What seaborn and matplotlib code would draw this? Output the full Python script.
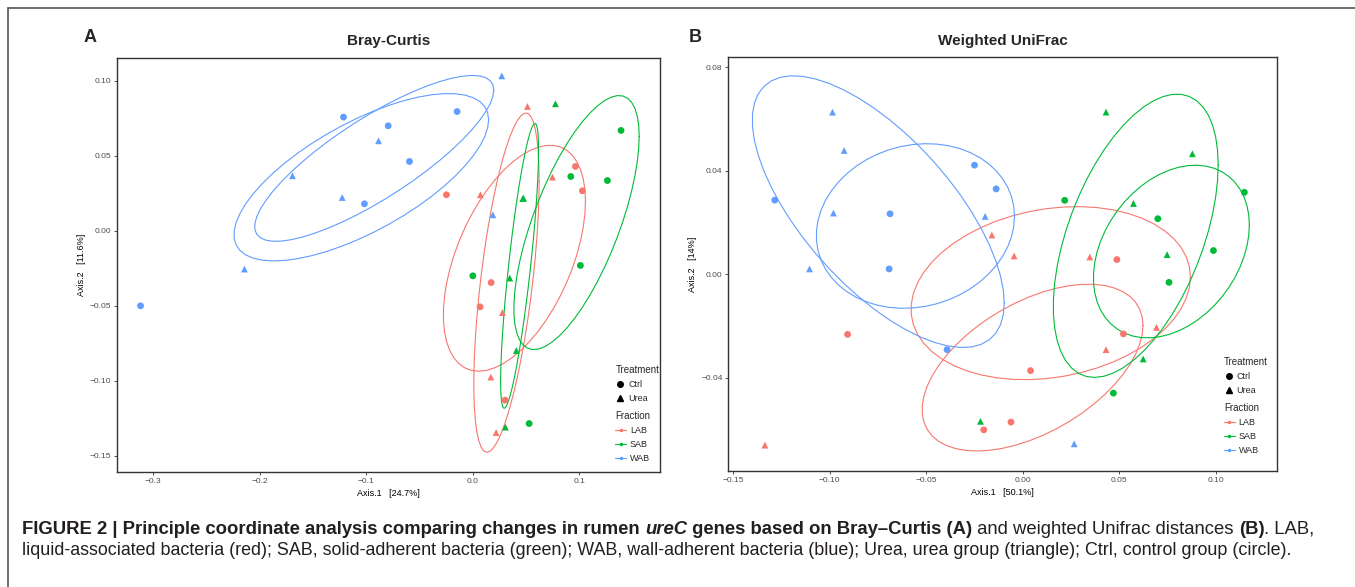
import numpy as np
import pandas as pd
import matplotlib
matplotlib.use("Agg")
import matplotlib.pyplot as plt
import seaborn as sns
from matplotlib.lines import Line2D
from matplotlib.text import Annotation
from matplotlib import font_manager

# ---------------- data ----------------
fractions = ["LAB", "SAB", "WAB"]
treatments = ["Ctrl", "Urea"]
fraction_colors = ["#F8766D", "#00BA38", "#619CFF"]
group_fraction = ["LAB"] * 12 + ["SAB"] * 12 + ["WAB"] * 12
group_treatment = (["Ctrl"] * 6 + ["Urea"] * 6) * 3

# Panel A: Bray-Curtis (order: LAB Ctrl, LAB Urea, SAB Ctrl, SAB Urea, WAB Ctrl, WAB Urea)
bc_axis1 = [0.0966, 0.1031, -0.0246, 0.0174, 0.0070, 0.0305,
            0.0515, 0.0750, 0.0073, 0.0280, 0.0171, 0.0221,
            0.1394, 0.0922, 0.1266, 0.0002, 0.1012, 0.0531,
            0.0778, 0.0471, 0.0478, 0.0349, 0.0411, 0.0308,
            -0.1213, -0.0146, -0.0793, -0.0593, -0.1016, -0.3119,
            -0.1692, -0.1225, 0.0274, -0.0884, 0.0190, -0.2143]
bc_axis2 = [0.0427, 0.0265, 0.0238, -0.0347, -0.0509, -0.1131,
            0.0827, 0.0356, 0.0238, -0.0547, -0.0977, -0.1347,
            0.0667, 0.0360, 0.0333, -0.0302, -0.0233, -0.1287,
            0.0845, 0.0213, 0.0215, -0.0317, -0.0800, -0.1311,
            0.0756, 0.0793, 0.0698, 0.0460, 0.0178, -0.0502,
            0.0365, 0.0220, 0.1031, 0.0598, 0.0105, -0.0257]

# Panel B: Weighted UniFrac
wu_axis1 = [0.0487, -0.0907, 0.0521, 0.0040, -0.0061, -0.0202,
            -0.0160, -0.0045, 0.0347, 0.0692, 0.0431, -0.1335,
            0.1147, 0.0217, 0.0699, 0.0987, 0.0757, 0.0469,
            0.0431, 0.0878, 0.0573, 0.0747, 0.0623, -0.0219,
            -0.0250, -0.0138, -0.1284, -0.0687, -0.0692, -0.0392,
            -0.0985, -0.0925, -0.0980, -0.0195, -0.1104, 0.0266]
wu_axis2 = [0.0057, -0.0232, -0.0230, -0.0372, -0.0571, -0.0601,
            0.0152, 0.0071, 0.0067, -0.0205, -0.0291, -0.0660,
            0.0317, 0.0286, 0.0215, 0.0092, -0.0031, -0.0459,
            0.0627, 0.0466, 0.0274, 0.0076, -0.0327, -0.0568,
            0.0422, 0.0330, 0.0287, 0.0234, 0.0021, -0.0291,
            0.0627, 0.0479, 0.0237, 0.0224, 0.0021, -0.0655]

bc_xticks = [-0.3, -0.2, -0.1, 0.0, 0.1]
bc_yticks = [-0.15, -0.10, -0.05, 0.00, 0.05, 0.10]
wu_xticks = [-0.15, -0.10, -0.05, 0.00, 0.05, 0.10]
wu_yticks = [-0.04, 0.00, 0.04, 0.08]

bc_xlabel = "Axis.1   [24.7%]"
bc_ylabel = "Axis.2   [11.6%]"
wu_xlabel = "Axis.1   [50.1%]"
wu_ylabel = "Axis.2   [14%]"

ELLIPSE_LEVEL = 0.6

# ---------------- fonts ----------------
sns.set_theme(style="white")
names = {f.name for f in font_manager.fontManager.ttflist}
base_font = "Liberation Sans" if "Liberation Sans" in names else "DejaVu Sans"
cap_font = "Liberation Sans Narrow" if "Liberation Sans Narrow" in names else base_font
plt.rcParams["font.family"] = [base_font, "DejaVu Sans"]


# ---------------- stat_ellipse (type = "t") ----------------
def cov_trob(x, nu=5, maxit=25, tol=0.01):
    n, p = x.shape
    wt = np.ones(n)
    loc = x.mean(axis=0)
    w = np.sqrt(wt)
    X = x - loc
    for _ in range(maxit):
        w0 = w
        X = x - loc
        A = np.sqrt(w / w.sum())[:, None] * X
        _, d, vt = np.linalg.svd(A, full_matrices=False)
        wX = X @ vt.T @ np.diag(1.0 / d)
        Q = (wX ** 2).sum(axis=1)
        w = wt * (nu + p) / (nu + Q)
        loc = (w[:, None] * x).sum(axis=0) / w.sum()
        if np.all(np.abs(w - w0) < tol):
            break
    cov = (np.sqrt(w)[:, None] * X).T @ (np.sqrt(w)[:, None] * X) / wt.sum()
    return loc, cov


def ellipse_path(x, level=0.95, segments=51):
    n = x.shape[0]
    loc, cov = cov_trob(x)
    dfn, dfd = 2, n - 1
    qf = (dfd / 2.0) * ((1 - level) ** (-2.0 / dfd) - 1)  # F quantile for dfn = 2
    radius = np.sqrt(dfn * qf)
    ang = np.arange(segments + 1) * 2 * np.pi / segments
    unit = np.column_stack([np.cos(ang), np.sin(ang)])
    R = np.linalg.cholesky(cov).T
    return loc + radius * unit @ R


# ---------------- figure ----------------
fig = plt.figure(figsize=(13.55, 5.87), dpi=100)
W, H = 1355.0, 587.0


def px_axes(l, t, r, b):
    return fig.add_axes([l / W, 1 - b / H, (r - l) / W, (b - t) / H])


axA = px_axes(117, 58, 660, 472)
axB = px_axes(728, 57, 1277, 471)

panels = [
    (axA, bc_axis1, bc_axis2, bc_xticks, bc_yticks, (-0.334, 0.176), (-0.161, 0.115),
     bc_xlabel, bc_ylabel, "Bray-Curtis", "A", "{:.1f}", "{:.2f}", (0.918, 0.258, 0.147)),
    (axB, wu_axis1, wu_axis2, wu_xticks, wu_yticks, (-0.1526, 0.1316), (-0.076, 0.084),
     wu_xlabel, wu_ylabel, "Weighted UniFrac", "B", "{:.2f}", "{:.2f}", (0.9035, 0.275, 0.164)),
]

tick_color = "#4D4D4D"
for (ax, a1, a2, xt, yt, xl, yl, xlab, ylab, title, letter, xf, yf, legpos) in panels:
    df = pd.DataFrame({"Axis1": a1, "Axis2": a2,
                       "Fraction": group_fraction, "Treatment": group_treatment})
    sns.scatterplot(data=df, x="Axis1", y="Axis2", hue="Fraction", style="Treatment",
                    hue_order=fractions, style_order=treatments, palette=fraction_colors,
                    markers={"Ctrl": "o", "Urea": "^"}, s=24, linewidth=0,
                    legend=False, ax=ax, zorder=3)
    for fr, col in zip(fractions, fraction_colors):
        for tr in treatments:
            sub = df[(df.Fraction == fr) & (df.Treatment == tr)][["Axis1", "Axis2"]].to_numpy()
            e = ellipse_path(sub, level=ELLIPSE_LEVEL)
            ax.plot(e[:, 0], e[:, 1], color=col, lw=0.8, zorder=2)
    ax.set_xlim(*xl)
    ax.set_ylim(*yl)
    ax.set_xticks(xt)
    ax.set_yticks(yt)
    ax.set_xticklabels([xf.format(v).replace("-", "\u2212") for v in xt])
    ax.set_yticklabels([yf.format(v).replace("-", "\u2212") for v in yt])
    ax.tick_params(axis="both", which="both", direction="out", length=2.5, width=0.6,
                   color="#333333", labelsize=6, labelcolor=tick_color, pad=1.5,
                   bottom=True, left=True)
    for sp in ax.spines.values():
        sp.set_color("#333333")
        sp.set_linewidth(1.0)
        sp.set_visible(True)
    ax.set_xlabel(xlab, fontsize=6.5, labelpad=3, color="black")
    ax.set_ylabel(ylab, fontsize=6.5, labelpad=3, color="black")
    ax.set_title(title, fontsize=11, fontweight="bold", pad=9)
    ax.grid(False)

    # legends
    lx, ty1, ty2 = legpos
    h_tr = [Line2D([], [], marker=m, ls="none", color="black", markersize=4)
            for m in ["o", "^"]]
    leg1 = ax.legend(h_tr, treatments, title="Treatment", loc="upper left",
                     bbox_to_anchor=(lx, ty1), frameon=False, fontsize=6.5,
                     title_fontsize=7, borderpad=0, labelspacing=0.55,
                     handlelength=1.0, handletextpad=0.4, borderaxespad=0,
                     alignment="left")
    ax.add_artist(leg1)
    h_fr = [Line2D([], [], marker="o", color=c, lw=0.8, markersize=1.5)
            for c in fraction_colors]
    ax.legend(h_fr, fractions, title="Fraction", loc="upper left",
              bbox_to_anchor=(lx, ty2), frameon=False, fontsize=6.5,
              title_fontsize=7, borderpad=0, labelspacing=0.55,
              handlelength=1.2, handletextpad=0.4, borderaxespad=0,
              alignment="left")

# panel letters
fig.text(90 / W, 1 - 38 / H, "A", fontsize=13, fontweight="bold", ha="center", va="center")
fig.text(695 / W, 1 - 38 / H, "B", fontsize=13, fontweight="bold", ha="center", va="center")

# outer frame
fig.add_artist(Line2D([8 / W, 1.0], [1 - 8 / H, 1 - 8 / H], color="#555555", lw=1.2,
                      transform=fig.transFigure))
fig.add_artist(Line2D([8 / W, 8 / W], [1 - 8 / H, 0.0], color="#555555", lw=1.2,
                      transform=fig.transFigure))

# caption
line1 = [("FIGURE 2 | Principle coordinate analysis comparing changes in rumen ", "bold", "normal"),
         ("ureC", "bold", "italic"),
         (" genes based on Bray\u2013Curtis (A)", "bold", "normal"),
         (" and weighted Unifrac distances ", "normal", "normal"),
         ("(B)", "bold", "normal"),
         (". LAB,", "normal", "normal")]
line2 = [("liquid-associated bacteria (red); SAB, solid-adherent bacteria (green); WAB, "
          "wall-adherent bacteria (blue); Urea, urea group (triangle); Ctrl, control group (circle).",
          "normal", "normal")]


def caption_line(pieces, x0, ybase, size):
    arts = []
    prev = None
    for txt, wt, st in pieces:
        if prev is None:
            t = fig.text(x0 / W, 1 - ybase / H, txt, ha="left", va="baseline",
                         fontsize=size, fontweight=wt, fontstyle=st,
                         family=[cap_font, "DejaVu Sans"], color="#231F20")
        else:
            t = Annotation(txt, xy=(1, 0), xycoords=prev, ha="left", va="bottom",
                           fontsize=size, fontweight=wt, fontstyle=st,
                           family=[cap_font, "DejaVu Sans"], color="#231F20")
            fig.add_artist(t)
        arts.append(t)
        prev = t
    return arts


c1 = caption_line(line1, 22, 534, 11)
c2 = caption_line(line2, 22, 555, 11)
fig.canvas.draw()
r = fig.canvas.get_renderer()
w1 = c1[-1].get_window_extent(r).x1 - c1[0].get_window_extent(r).x0
w2 = c2[-1].get_window_extent(r).x1 - c2[0].get_window_extent(r).x0
for arts, target, w in [(c1, 1319 - 22, w1), (c2, 1290 - 22, w2)]:
    for a in arts:
        a.set_fontsize(11 * target / w)

fig.savefig("out.png", dpi=100)
